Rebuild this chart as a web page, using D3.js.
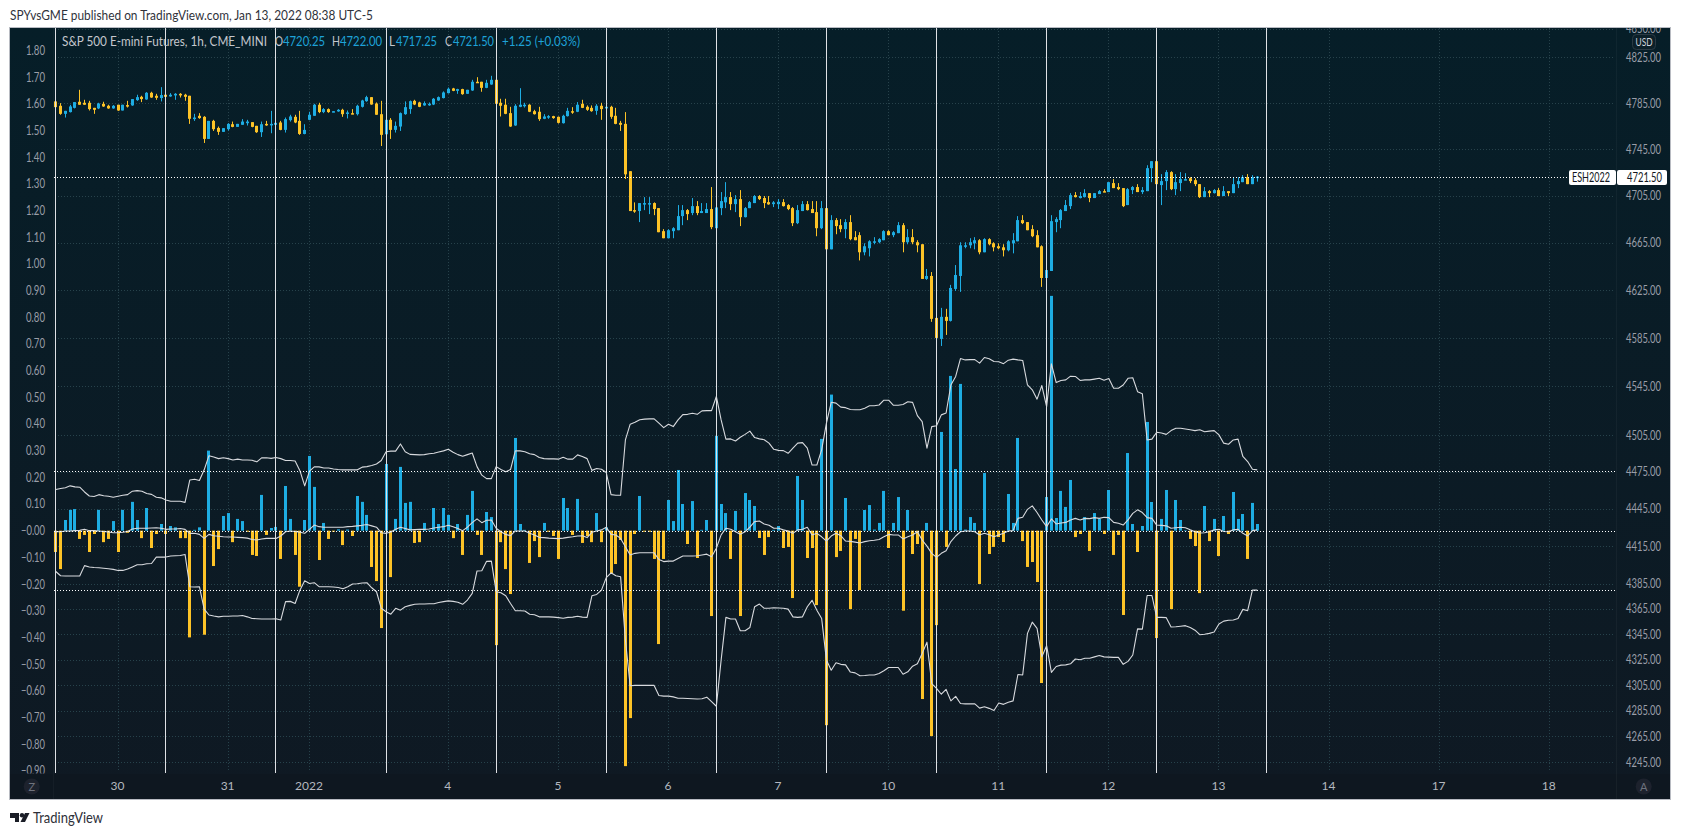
<!DOCTYPE html>
<html>
<head>
<meta charset="utf-8">
<script src="https://cdn.jsdelivr.net/npm/d3@7"></script>
<style>
html,body{margin:0;padding:0;background:#fff;overflow:hidden}
svg{display:block;position:absolute;left:0;top:0}
text{font-family:Lato,"Noto Sans",sans-serif}
</style>
</head>
<body>
<svg id="c" width="1681" height="835"></svg>
<script>
const opens=[4786.5,4782.7,4775.7,4777.2,4780.9,4786.2,4785.3,4785.3,4780.9,4780.4,4784.4,4782.7,4780.4,4783.6,4778.6,4783.3,4783,4787.6,4790.5,4788.2,4794,4791.4,4789.4,4792.3,4790.8,4791.7,4793.1,4792.3,4791.4,4771.1,4774,4773.1,4754,4769.6,4763.5,4760.1,4762.4,4766.7,4764.4,4766.2,4767.6,4768.5,4765.3,4759.8,4767,4766.4,4766.2,4768.2,4761.8,4770.2,4773.1,4769.6,4758.3,4770.5,4774,4783.6,4777.2,4779.8,4777.2,4777.8,4779.2,4776.3,4776.3,4775.4,4781.8,4786.7,4790.2,4784.7,4775.4,4758,4770.5,4761.8,4764.7,4775.4,4779.8,4787,4785.6,4783,4783.6,4783.8,4787.3,4789.4,4793.7,4797.8,4795.7,4797.2,4793.1,4796,4803.6,4803.6,4798.3,4801.2,4805.3,4785.3,4783.6,4776.3,4765.6,4781.8,4783,4783.6,4778,4777.5,4771.4,4772.5,4773.7,4773.1,4767.6,4773.7,4778,4777.5,4784.4,4781.8,4780.9,4778.3,4782.7,4780.4,4781.8,4774,4767.9,4767,
4726.2,4692.9,4692.1,4698,4698,4698.9,4694.6,4675,4669,4675,4675.8,4687.8,4692.9,4690.4,4696.3,4690.4,4690.4,4693.8,4677.5,4694.6,4699.5,4704,4698,4702.3,4686.9,4694.6,4698.9,4704.9,4703.2,4699.7,4698,4698,4699.7,4697.2,4694.6,4681.8,4692.1,4698,4693.8,4691.2,4677.5,4694.6,4659.6,4684.4,4680.1,4676.7,4682.7,4669.9,4671.6,4657.1,4660.5,4665.6,4665.6,4667.3,4675,4671.6,4673.3,4680.1,4665.6,4669.9,4665.6,4663.9,4634.6,4637.1,4601.9,4584.4,4602.8,4599.4,4626.2,4637.1,4662.2,4663,4664.7,4667.3,4657.1,4668.2,4664.7,4662.2,4661.3,4658.8,4664.7,4666.4,4684.4,4682.7,4676.7,4671.6,4662.2,4635.4,4641.3,4682.7,4684.4,4692.1,4696.3,4705.7,4703.2,4704,4707.4,4703.2,4706.6,4709.1,4708.3,4716,4712.6,4711.7,4697.2,4710,4712.6,4708.3,4709.1,4728.8,4734.8,4714.3,4717.7,4725.4,4710.8,4716,4718.5,4720.2,4718.5,4715.1,4704,4709.1,4707.4,4710,4704.9,4709.1,4707.4,4715.1,4716.8,4721.1,4715.1,4720.25];
const closes=[4781.5,4775.7,4778.3,4782.1,4785.9,4783.6,4783.6,4779.8,4779.2,4784.7,4782.1,4780.4,4782.7,4778.6,4783.6,4782.4,4788.5,4790.2,4788.5,4794,4789.9,4789.6,4792,4790.5,4792.3,4793.1,4791.7,4790.5,4771.4,4772.5,4772,4754,4769.6,4762.4,4760.1,4763.3,4767,4764.4,4767,4769,4769,4764.4,4759.8,4766.7,4766.2,4767,4767.9,4761.8,4771.1,4773.4,4768.2,4758.3,4761.8,4774.9,4783.6,4777.2,4779.8,4777.2,4778,4779.2,4775.4,4776.9,4775.7,4782.7,4787.3,4790.2,4783.8,4774.9,4757.5,4770.5,4761.8,4765.3,4776.3,4781.5,4786.7,4783.8,4781.8,4785,4784.4,4788.8,4790.2,4794.3,4797.5,4795.7,4797.2,4792.8,4796.6,4803.6,4803,4798.3,4802.7,4805.3,4784.4,4782.7,4775.7,4764.7,4782.7,4783.6,4783.6,4777.5,4775.4,4771.1,4773.4,4773.7,4772,4767.9,4774,4778.3,4777.2,4783.6,4780.9,4779.2,4778,4782.7,4779.8,4781.8,4773.1,4767,4766.2,4723.5,
4692.1,4691.8,4698.9,4698.9,4698.9,4693.8,4674.1,4669,4675.8,4677.5,4687.8,4692.9,4689.5,4696.3,4690.4,4692.1,4693.8,4678.4,4695.2,4700.6,4704,4698,4702.3,4686.9,4694.6,4699.7,4704.9,4702.3,4698.9,4697.8,4699.5,4700,4696.3,4693.8,4681.8,4692.9,4698,4692.9,4690.4,4677.5,4694.6,4659.6,4684.4,4679.3,4676.7,4682.7,4668.2,4667.3,4657.1,4662.2,4666.4,4666.4,4668.2,4675,4671.6,4674.1,4680.1,4665.6,4669.9,4665.6,4663,4634.6,4637.1,4601.1,4585.2,4602.8,4599.4,4627,4637.9,4663,4663,4665.6,4667.3,4657.1,4668.2,4663.9,4661.3,4660.5,4658.8,4666.4,4667.3,4684.4,4681.8,4675.8,4670.7,4661.3,4635.4,4642.1,4683.5,4685.2,4692.9,4697.2,4705.7,4704,4704.9,4707.4,4703.2,4707.4,4709.1,4708.3,4716.8,4711.7,4710.8,4696.3,4710.8,4712.6,4708.3,4710,4728.8,4734.8,4715.1,4717.7,4725.4,4710.8,4716.8,4719.4,4719.4,4717.7,4715.1,4704,4709.1,4707.4,4710,4704.9,4709.1,4707.4,4715.1,4717.7,4721.1,4715.1,4721.1,4721.5];
const highs=[4786.5,4785,4778.3,4783.5,4785.9,4796.6,4787.9,4787,4780.9,4785.3,4786.2,4783.6,4783.3,4783.6,4783.6,4787,4788.5,4792.3,4791.4,4794.6,4794.9,4793.1,4798.9,4800.1,4793.7,4793.7,4793.7,4793.1,4791.4,4775.7,4776.3,4773.7,4769.6,4770.5,4764.7,4763.3,4767.6,4769,4767,4771.1,4770.5,4768.5,4765.3,4769,4769.6,4778.3,4770.5,4769.6,4772.5,4774.9,4774.9,4778.3,4766.7,4777.5,4784.4,4785.3,4780.7,4780.4,4778,4779.8,4780.1,4778.6,4779.8,4783.6,4787.9,4791.4,4790.2,4785.6,4787,4777.8,4772,4769,4776.9,4786.5,4787.3,4787.9,4786.2,4786.5,4785.6,4789.4,4790.8,4795.2,4798.6,4798.3,4797.5,4797.5,4796.6,4805.3,4807.6,4803.6,4805.3,4808.8,4805.3,4788.8,4788.8,4781.8,4784.1,4798,4785.3,4784.1,4779.2,4781.8,4775.4,4774.6,4774,4773.4,4774.9,4780.9,4781.5,4785.9,4787.9,4783,4783,4784.1,4785.3,4788.8,4782.7,4780.9,4769.6,4777.2,
4726.2,4699.5,4698.9,4704,4704,4699.5,4694.6,4676.7,4676.7,4678.4,4697.2,4697.2,4693.8,4703.2,4700.6,4698.9,4698.9,4712.6,4695.2,4708.3,4716.8,4708.3,4705.7,4710,4695.5,4700.6,4705.7,4705.7,4704.9,4704.9,4700.6,4702.3,4702.3,4698,4695.5,4697.2,4700.6,4700.6,4700.6,4700.6,4700.6,4694.6,4688.6,4686.1,4685.2,4685.2,4688.6,4675,4674.1,4664.7,4667.3,4669.9,4669,4675.8,4675.8,4675,4682.7,4681.8,4676.7,4676.7,4667.3,4663.9,4643,4640.4,4601.9,4610.3,4609.5,4629.6,4646.3,4665.6,4665.6,4669,4669.9,4668.2,4669,4669,4665.6,4664.7,4663.9,4667.3,4673.3,4687.8,4688.6,4682.7,4680.1,4675.8,4663,4657.1,4688.6,4686.9,4693.8,4701.5,4707.4,4708.3,4708.3,4710.8,4707.4,4707.4,4710,4710.8,4716.8,4719.4,4716,4711.7,4711.7,4713.4,4715.1,4712.6,4731.3,4734.8,4740.7,4723.7,4727.1,4726.2,4723.7,4725.4,4724.5,4721.1,4720.2,4715.1,4712.6,4710,4710.8,4711.7,4713.4,4709.1,4721.1,4721.1,4722.8,4723.7,4722.8,4722];
const lows=[4772,4774.9,4772.5,4776.9,4780.4,4783.6,4783.6,4778.6,4775.7,4779.8,4781.8,4780.1,4780.1,4778.3,4778.6,4781.2,4782.7,4787,4785.9,4787.9,4789.6,4787.9,4786.5,4789.9,4790.5,4787.9,4789.9,4787,4767,4769.6,4771.4,4750.5,4754,4760.9,4757.5,4760.1,4761.2,4764.1,4764.4,4766.2,4765.6,4764.1,4759.2,4755.7,4765.3,4758.9,4758,4761.5,4759.5,4769,4767.6,4757.5,4758,4770.2,4774,4776.3,4776.3,4776.6,4777.2,4777.5,4773.1,4771.7,4775.4,4774.3,4781.2,4786.2,4783.6,4774.9,4747.9,4757.7,4754,4759.5,4760.9,4774.9,4775.7,4783.3,4781.5,4782.7,4782.7,4783.3,4787,4789.1,4793.4,4795.4,4793.1,4792.3,4793.1,4795.7,4802.7,4794.9,4798,4801,4784.1,4773.4,4775.4,4764.4,4765.3,4781.5,4781.2,4777.2,4775.1,4769.6,4771.1,4771.4,4771.4,4767.3,4767.3,4773.4,4775.7,4777.2,4780.7,4778.3,4777.5,4774.9,4770.5,4776.9,4771.4,4766.7,4760.9,4719.5,
4692.1,4690.6,4682.7,4692.9,4689.5,4688.6,4674.1,4669,4669,4669,4675.8,4680.1,4684.4,4688.6,4688.6,4690.4,4690.4,4676.7,4663.9,4688.6,4694.6,4692.9,4691.2,4679.3,4686.7,4694.6,4698.9,4701.5,4694.6,4697.5,4695.5,4693.8,4696,4692.9,4679.3,4681,4692.1,4692.6,4690.4,4670.7,4676.7,4654.5,4659.6,4672.4,4674.1,4669,4667.3,4667.3,4650.2,4654.5,4653.6,4663.9,4664.7,4667.3,4671.6,4669.9,4673.3,4657.1,4663.9,4663.9,4657.1,4634.6,4633.8,4598.6,4575.2,4578.5,4587.7,4598.9,4624.5,4623.7,4660.5,4660.5,4659.6,4655.4,4657.1,4663,4657.9,4659.6,4653.6,4657.9,4656.2,4666.4,4681,4675.8,4669.9,4661.3,4627.9,4631.2,4641.3,4674.1,4677.5,4692.1,4693.8,4703.7,4702.9,4703.7,4699.7,4703.2,4706.6,4708.3,4708.3,4711.7,4710,4695.5,4697.2,4706.6,4708.3,4706.6,4709.1,4716.8,4710,4697.2,4710,4710,4705.7,4709.1,4718.5,4716,4713.4,4703.2,4704,4704,4707.1,4704.9,4704.9,4704.9,4707.4,4711.7,4716.8,4715.1,4715.1,4717.25];
const flow=[-.08,-.144,.04,.078,.081,-.031,-.016,-.08,-.0125,.078,-.043,-.031,.036,-.08,.078,-.008,.108,.04,-.028,.085,-.065,-.0125,.025,-.0125,.0175,.0125,-.028,-.028,-.4,.003,.0125,-.39,.3,-.1325,-.069,.055,.066,-.043,.044,.036,-.004,-.091,-.095,.134,-.016,.01,.014,-.106,.1675,.044,-.091,-.21,.04,.28,.164,-.11,.029,-.031,-.004,.005,-.054,.004,-.02,.13,.108,.059,-.136,-.189,-.365,.25,-.174,.044,.239,.104,.108,-.046,-.043,.029,.002,.085,.025,.085,.059,-.028,.025,-.091,.059,.149,-.016,-.091,.07,.051,-.429,-.043,-.144,-.2375,.3475,.025,.003,-.121,-.039,-.099,.029,-.004,-.02,-.106,.1225,.085,-.016,.119,-.046,-.02,-.043,.066,-.043,.0125,-.159,-.125,-.035,-.8825,-.7025,-.0125,.13,-.004,-.004,-.106,-.425,-.106,.115,.036,.2275,.1,-.05,.111,-.1025,.003,.04,-.32,.355,.1,.066,-.106,.074,-.32,.141,.115,.0925,-.0275,-.091,-.024,.003,.0175,-.065,-.061,-.2525,.205,.115,-.1025,-.065,-.279,.344,-.729,.51,-.099,-.076,.1225,-.294,-.031,-.2225,.0775,.096,.004,.029,.149,-.065,.029,.126,-.3,.0775,-.0875,-.05,-.631,.029,-.77,-.354,.37,-.061,.58,.231,.55,.004,.051,.029,-.2,.216,-.0875,-.061,-.024,-.0425,.1375,.029,.3475,-.039,-.136,-.1175,-.1925,-.571,.126,.88,.0475,.149,.089,.19,-.024,-.0125,.051,-.076,.066,.044,-.0125,.1525,-.091,-.016,-.316,.291,.025,-.08,.0175,.4075,.1075,-.4025,.044,.1525,-.294,.115,.04,.002,-.031,-.0575,-.234,.0925,-.039,.044,-.095,.055,-.0125,.145,.044,.0625,-.106,.104,.025];
const upperBand=[.154,.158,.161,.168,.164,.163,.145,.13,.128,.135,.131,.129,.125,.129,.133,.135,.148,.15,.148,.139,.136,.125,.123,.115,.11,.11,.11,.106,.19,.193,.188,.228,.281,.276,.27,.273,.27,.265,.268,.265,.265,.264,.258,.273,.273,.271,.274,.27,.263,.263,.261,.225,.168,.223,.239,.239,.235,.235,.231,.229,.228,.228,.228,.228,.238,.24,.244,.25,.263,.296,.298,.298,.325,.296,.286,.285,.284,.285,.288,.29,.295,.299,.305,.294,.285,.279,.285,.291,.24,.208,.195,.195,.24,.229,.221,.229,.299,.299,.296,.288,.285,.274,.27,.269,.269,.268,.275,.268,.268,.284,.278,.27,.226,.233,.23,.218,.135,.133,.133,.34,.399,.406,.416,.418,.419,.419,.403,.386,.399,.39,.415,.435,.436,.44,.436,.449,.45,.45,.503,.415,.343,.344,.336,.35,.361,.373,.349,.344,.341,.328,.305,.301,.3,.29,.309,.328,.33,.309,.246,.246,.303,.403,.481,.478,.463,.461,.454,.453,.453,.459,.468,.468,.471,.489,.489,.47,.47,.473,.483,.481,.431,.409,.309,.39,.393,.434,.441,.546,.578,.645,.64,.641,.641,.628,.649,.644,.634,.633,.626,.639,.643,.64,.638,.546,.528,.493,.544,.465,.625,.555,.563,.565,.579,.578,.563,.565,.565,.568,.571,.564,.57,.534,.534,.546,.571,.573,.521,.513,.34,.343,.369,.366,.361,.375,.384,.384,.381,.378,.375,.378,.371,.373,.375,.359,.328,.324,.34,.343,.278,.259,.23,.228];
const midBand=[-.004,-.004,-.001,-.001,0,.001,.005,0,0,-.001,-.003,-.005,-.008,-.008,-.006,-.003,.006,.009,.009,.009,.01,.011,.009,.005,.006,.006,.008,.005,-.01,-.01,-.014,-.029,-.014,-.019,-.021,-.023,-.024,-.024,-.025,-.026,-.028,-.033,-.035,-.031,-.029,-.029,-.029,-.02,-.004,-.001,-.003,-.006,-.01,.005,.021,.015,.013,.013,.013,.013,.013,.015,.016,.018,.02,.023,.018,.013,-.008,-.01,-.005,.005,.013,.008,.003,.004,.005,.005,.006,.01,.013,.015,.02,.015,.008,0,.013,.03,.044,.03,.039,.04,.009,-.004,-.014,-.019,-.001,-.001,-.001,-.01,-.016,-.025,-.026,-.028,-.029,-.03,-.028,-.025,-.023,-.02,-.019,-.026,-.006,-.001,.003,.013,-.014,-.016,-.029,-.06,-.091,-.085,-.083,-.083,-.083,-.083,-.108,-.116,-.114,-.114,-.104,-.095,-.095,-.095,-.094,-.091,-.088,-.098,-.066,-.016,.009,.005,-.004,-.013,-.004,.013,.034,.036,.025,.02,.009,.009,.003,-.001,-.01,.003,.005,.013,-.016,-.01,-.023,-.039,-.02,-.01,-.019,-.039,-.04,-.043,-.046,-.041,-.038,-.036,-.033,-.023,-.014,-.016,-.016,-.031,-.023,-.016,-.004,-.035,-.058,-.085,-.1,-.085,-.075,-.041,-.02,-.004,-.001,-.001,-.004,-.016,-.01,-.015,-.023,-.016,-.01,-.001,0,.046,.05,.08,.093,.068,.04,.015,.044,.025,.029,.031,.04,.046,.04,.046,.045,.049,.046,.05,.049,.031,.028,.021,.04,.065,.078,.068,.049,.046,.021,.02,.018,.009,.011,.013,.011,.003,-.004,-.009,-.008,-.004,.003,.005,-.003,-.004,.003,.005,-.01,-.02,0,.003];
const lowerBand=[-.153,-.169,-.17,-.17,-.17,-.17,-.131,-.136,-.138,-.139,-.141,-.143,-.145,-.149,-.149,-.144,-.136,-.128,-.128,-.124,-.123,-.099,-.099,-.099,-.095,-.094,-.093,-.089,-.21,-.211,-.21,-.294,-.316,-.32,-.323,-.321,-.321,-.32,-.32,-.318,-.323,-.329,-.33,-.331,-.331,-.331,-.33,-.335,-.266,-.265,-.273,-.223,-.188,-.198,-.195,-.21,-.21,-.21,-.211,-.213,-.218,-.21,-.2,-.199,-.196,-.195,-.214,-.229,-.291,-.304,-.313,-.291,-.298,-.285,-.28,-.276,-.275,-.275,-.274,-.274,-.269,-.266,-.263,-.265,-.268,-.276,-.26,-.235,-.151,-.15,-.115,-.114,-.229,-.233,-.244,-.273,-.3,-.3,-.301,-.313,-.315,-.323,-.323,-.323,-.324,-.326,-.328,-.325,-.324,-.321,-.324,-.325,-.244,-.239,-.223,-.176,-.158,-.169,-.173,-.41,-.581,-.58,-.58,-.58,-.58,-.58,-.618,-.62,-.62,-.623,-.628,-.628,-.629,-.63,-.631,-.63,-.624,-.641,-.658,-.485,-.325,-.331,-.331,-.375,-.375,-.363,-.285,-.275,-.291,-.291,-.289,-.29,-.291,-.294,-.323,-.325,-.323,-.285,-.261,-.298,-.329,-.485,-.523,-.495,-.501,-.503,-.53,-.533,-.544,-.543,-.541,-.541,-.535,-.525,-.513,-.513,-.513,-.538,-.529,-.508,-.499,-.46,-.418,-.573,-.591,-.613,-.595,-.638,-.621,-.648,-.649,-.649,-.649,-.665,-.66,-.666,-.674,-.646,-.651,-.643,-.638,-.539,-.541,-.385,-.343,-.366,-.473,-.431,-.531,-.509,-.504,-.503,-.499,-.481,-.484,-.478,-.478,-.473,-.468,-.473,-.474,-.475,-.475,-.501,-.49,-.466,-.368,-.369,-.243,-.243,-.325,-.325,-.326,-.361,-.36,-.358,-.356,-.363,-.373,-.39,-.388,-.385,-.38,-.35,-.339,-.336,-.335,-.329,-.295,-.3,-.223,-.223];
const sessionOpens=[0,23,46,69,92,115,138,161,184,207,230,253];
const dateIdx=[13,36,53,82,105,128,151,174,197,220,243,266,289,312];
const dateLabels=["30","31","2022","4","5","6","7","10","11","12","13","14","17","18"];
const priceTicks=[4850,4825,4785,4745,4705,4665,4625,4585,4545,4505,4475,4445,4415,4385,4365,4345,4325,4305,4285,4265,4245];
const flowTicks=[1.8,1.7,1.6,1.5,1.4,1.3,1.2,1.1,1,.9,.8,.7,.6,.5,.4,.3,.2,.1,0,-.1,-.2,-.3,-.4,-.5,-.6,-.7,-.8,-.9];
const refLevels=[.225,0,-.224];
const lastPrice=4721.5;

const UP="#1eade3",DOWN="#fdc327",GRID="#27424b",LABEL="#9a9ea8";
const svg=d3.select("#c");
const defs=svg.append("defs");
const g=defs.append("linearGradient").attr("id","bg").attr("x1",0).attr("y1",0).attr("x2",0).attr("y2",1);
g.append("stop").attr("offset","0%").attr("stop-color","#061e28");
g.append("stop").attr("offset","100%").attr("stop-color","#0f1923");
defs.append("clipPath").attr("id","plot").append("rect").attr("x",10).attr("y",28).attr("width",1606).attr("height",745);
defs.append("clipPath").attr("id","pane").append("rect").attr("x",10).attr("y",28).attr("width",1660).attr("height",745.5);

const x=d3.scaleLinear().domain([0,253]).range([55.3,1266.3]);
const yP=d3.scaleLog().domain([4825,4245]).range([57.3,762.3]);
const yV=d3.scaleLinear().domain([1.8,-.9]).range([50.4,770.8]);
const px=i=>Math.round(x(i));
const fit=(sel,w)=>sel.attr("textLength",w).attr("lengthAdjust","spacingAndGlyphs");

// frame
svg.append("rect").attr("x",9.5).attr("y",27.5).attr("width",1661).attr("height",772).attr("fill","url(#bg)").attr("stroke","#b8bbc2");
svg.append("rect").attr("x",10).attr("y",774).attr("width",1660).attr("height",25).attr("fill","#0e1720");
svg.append("line").attr("x1",1616.5).attr("x2",1616.5).attr("y1",28).attr("y2",799).attr("stroke","#fff").attr("stroke-opacity",.04);
svg.append("line").attr("x1",53.5).attr("x2",53.5).attr("y1",28).attr("y2",799).attr("stroke","#fff").attr("stroke-opacity",.03);

const plot=svg.append("g").attr("clip-path","url(#plot)");
// grid
plot.append("g").selectAll("line").data(priceTicks).join("line")
 .attr("x1",55).attr("x2",1615).attr("y1",d=>Math.round(yP(d))+.5).attr("y2",d=>Math.round(yP(d))+.5)
 .attr("stroke",GRID).attr("stroke-dasharray","1 2");
plot.append("g").selectAll("line").data(dateIdx).join("line")
 .attr("x1",d=>px(d)+.5).attr("x2",d=>px(d)+.5).attr("y1",28).attr("y2",772)
 .attr("stroke",GRID).attr("stroke-dasharray","1 2");
// flow bars
plot.append("g").selectAll("rect").data(flow).join("rect")
 .attr("x",(d,i)=>px(i)-1).attr("width",3)
 .attr("y",d=>d>=0?yV(d):yV(0)).attr("height",d=>Math.abs(yV(d)-yV(0)))
 .attr("fill",d=>d>=0?UP:DOWN);
// candles
const candles=plot.append("g").selectAll("g").data(opens).join("g")
 .attr("fill",(d,i)=>closes[i]>=d?UP:DOWN).attr("stroke","none");
candles.append("rect").attr("x",(d,i)=>px(i)).attr("width",1)
 .attr("y",(d,i)=>yP(highs[i])).attr("height",(d,i)=>Math.max(1,yP(lows[i])-yP(highs[i])));
candles.append("rect").attr("x",(d,i)=>px(i)-1).attr("width",3)
 .attr("y",(d,i)=>yP(Math.max(d,closes[i]))).attr("height",(d,i)=>Math.max(1.5,Math.abs(yP(d)-yP(closes[i]))));
// session lines
plot.append("g").selectAll("line").data(sessionOpens).join("line")
 .attr("x1",d=>px(d)+.5).attr("x2",d=>px(d)+.5).attr("y1",28).attr("y2",773)
 .attr("stroke","#dfe1e5").attr("stroke-width",1);
// bands
const line=d3.line().x((d,i)=>x(i)+.5).y(d=>yV(d));
plot.append("g").selectAll("path").data([upperBand,midBand,lowerBand]).join("path")
 .attr("d",line).attr("fill","none").attr("stroke","#d8dade").attr("stroke-width",1.1).attr("stroke-linejoin","round");
// reference dotted lines
plot.append("g").selectAll("line").data(refLevels).join("line")
 .attr("x1",54).attr("x2",1615).attr("y1",d=>Math.round(yV(d))+.5).attr("y2",d=>Math.round(yV(d))+.5)
 .attr("stroke","#fff").attr("stroke-dasharray","1 2");
plot.append("line").attr("x1",54).attr("x2",1568).attr("y1",Math.round(yP(lastPrice))+.5).attr("y2",Math.round(yP(lastPrice))+.5)
 .attr("stroke","#fff").attr("stroke-dasharray","1 2");

// axes
const pane=svg.append("g").attr("clip-path","url(#pane)");
const fmtV=d=>d===0?"\u22120.00":d3.format(".2f")(d).replace("-","\u2212");
const axL=pane.append("g").attr("transform","translate(45,0)")
 .call(d3.axisLeft(yV).tickValues(flowTicks).tickFormat(fmtV).tickSize(0).tickPadding(0));
const axR=pane.append("g").attr("transform","translate(1626,0)")
 .call(d3.axisRight(yP).tickValues(priceTicks).tickFormat(d3.format(".2f")).tickSize(0).tickPadding(0));
[axL,axR].forEach(a=>{a.select(".domain").remove();a.selectAll("text").attr("fill",LABEL).style("font-family","Lato,sans-serif").style("font-size","12.5px");});
axR.selectAll("text").call(fit,35);
axL.selectAll("text").each(function(d){d3.select(this).call(fit,d<=0?24:19);});
const axB=svg.append("g").attr("transform","translate(0,786)");
axB.selectAll("text").data(dateLabels).join("text")
 .attr("x",(d,i)=>x(dateIdx[i])).attr("y",0).attr("dy",".35em").attr("text-anchor","middle")
 .attr("fill","#b4b7bf").attr("font-size",12).text(d=>d);

// titles
svg.append("text").attr("x",10).attr("y",19.5).attr("font-size",14).attr("fill","#2f323b").call(fit,363).text("SPYvsGME published on TradingView.com, Jan 13, 2022 08:38 UTC-5");
const leg=svg.append("g").attr("font-size",13);
const LEGC="#c4c7cd",LEGV="#1ea3d8";
[["S&P 500 E-mini Futures, 1h, CME_MINI",62,LEGC,205],["O",275,LEGC,8],["4720.25",283,LEGV,42],["H",332,LEGC,8],["4722.00",340,LEGV,42],["L",389,LEGC,6],["4717.25",396,LEGV,41],["C",445,LEGC,7],["4721.50",453,LEGV,41],["+1.25 (+0.03%)",502,LEGV,78]]
 .forEach(t=>leg.append("text").attr("x",t[1]).attr("y",46).attr("fill",t[2]).call(fit,t[3]).text(t[0]));

// price tags
svg.append("rect").attr("x",1569).attr("y",170).attr("width",47).attr("height",15).attr("rx",2).attr("fill","#fff");
svg.append("rect").attr("x",1617).attr("y",170).attr("width",50).attr("height",15).attr("rx",2).attr("fill","#fff");
svg.append("text").attr("x",1572).attr("y",182).attr("font-size",12.5).attr("fill","#131722").call(fit,38).text("ESH2022");
svg.append("text").attr("x",1627).attr("y",182).attr("font-size",12.5).attr("fill","#131722").call(fit,35).text("4721.50");
svg.append("rect").attr("x",1632.5).attr("y",34.5).attr("width",23).attr("height",15).attr("rx",4).attr("fill","#0c2029").attr("stroke","#2b3a44");
svg.append("text").attr("x",1635.5).attr("y",46).attr("font-size",12).attr("fill","#d1d4dc").call(fit,17).text("USD");
// corner buttons
[[31.7,"Z"],[1643.7,"A"]].forEach(b=>{
 svg.append("circle").attr("cx",b[0]).attr("cy",786.5).attr("r",8).attr("fill","#1d222d");
 svg.append("text").attr("x",b[0]).attr("y",790.5).attr("text-anchor","middle").attr("font-size",11).attr("fill","#6f737e").text(b[1]);
});
// brand mark
const logo=svg.append("g").attr("transform","translate(10,813)").attr("fill","#1a1d26");
logo.append("path").attr("d","M0 0H9V9H5V5H0Z");
logo.append("circle").attr("cx",12).attr("cy",2.2).attr("r",2.2);
logo.append("path").attr("d","M15 0H19.5L15 9H10.5Z");
svg.append("text").attr("x",33).attr("y",822.5).attr("font-size",15).attr("fill","#2e3039").call(fit,70).text("TradingView");
</script>
</body>
</html>
